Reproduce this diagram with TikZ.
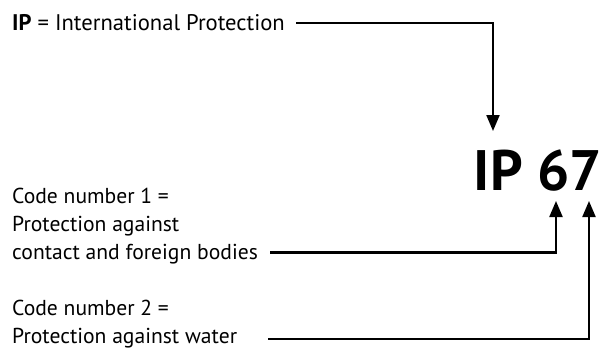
\documentclass[tikz,border=0pt]{standalone}
\usepackage{fontspec}
\setmainfont{PT Sans}
\usetikzlibrary{arrows.meta,positioning,calc}

\begin{document}
\begin{tikzpicture}[x=1pt, y=-1pt,
    lbl/.style={inner sep=0pt, align=left, font=\fontsize{21.6}{28.2}\selectfont},
    arr/.style={-{Triangle[length=16pt, width=13pt]}, line width=2.2pt}
]
\useasboundingbox (0,0) rectangle (606,351);
\node[inner sep=0pt, anchor=base west, font=\fontsize{22.6}{26}\selectfont] (ip) at (12,30.5) {\textbf{IP} = International Protection};
\node[inner sep=0pt, anchor=base east, font=\fontsize{57}{57}\selectfont\bfseries] (code) at (602,190) {IP 67};
\node[lbl, anchor=north west] (num1) at (12,188) {Code number 1 =\\Protection against\\contact and foreign bodies};
\node[lbl, anchor=north west] (num2) at (12,300) {Code number 2 =\\Protection against water};

\coordinate (tip0) at (493,131);
\coordinate (tip6) at (556,201);
\coordinate (tip7) at (589,201);
\coordinate (s1) at (270,252.5);
\coordinate (s2) at (268,339);

\draw[arr] ([xshift=11pt]ip.east) -| (tip0);
\draw[arr] (s1) -| (tip6);
\draw[arr] (s2) -| (tip7);
\end{tikzpicture}
\end{document}
